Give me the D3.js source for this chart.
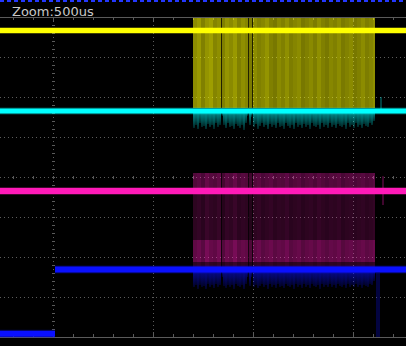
<!DOCTYPE html>
<html>
<head>
<meta charset="utf-8">
<script src="https://cdn.jsdelivr.net/npm/d3@7"></script>
<style>
  html, body { margin: 0; padding: 0; background: #000; overflow: hidden; }
</style>
</head>
<body>
<div id="scope"></div>
<script>
// timebase 500us/div, trigger at t = 0; vertical values in divisions
var title = 'Zoom:500us';
var channelLevels = [3.66, 1.65, -0.35, -2.31];   // CH1..CH4 resting level
var blueLowLevel = -3.92;                          // CH4 before step
var blueStepTime = 10;                             // us
var burstStart = 700, burstEnd = 1610;             // us
var burstGaps = [840, 975, 995];                   // us
var yellowTop = 3.98, yellowBottom = 1.72;
var magentaTop = 0.1, magentaBand = [-1.58, -2.13], magentaBottom = -2.28;

// 20us columns
var yellowBright = [0.55,0.6,0.5,0.58,0.62,0.52,0.56,0.5,0.58,0.54,0.6,0.5,0.56,0.52,0.48,0.55,0.5,0.53,0.58,0.5,0.47,0.54,0.5,0.56,0.49,0.52,0.55,0.47,0.5,0.54,0.49,0.56,0.5,0.47,0.53,0.5,0.55,0.48,0.51,0.54,0.47,0.5,0.55,0.49,0.52,0.56];
var magentaBright = [0.7,0.8,0.65,0.9,0.75,0.7,0.85,0.6,0.8,0.72,0.9,0.68,0.75,0.7,0.55,0.7,0.78,0.65,0.72,0.8,0.66,0.74,0.7,0.82,0.64,0.7,0.76,0.62,0.7,0.75,0.66,0.8,0.7,0.64,0.74,0.7,0.78,0.62,0.7,0.74,0.64,0.7,0.76,0.66,0.72,0.8];
// 10us columns, noise depth below trace (div)
var cyanNoise = [0.42,0.35,0.45,0.3,0.4,0.38,0.46,0.33,0.41,0.36,0.44,0.3,0.39,0.35,0.12,0.34,0.43,0.31,0.4,0.37,0.45,0.32,0.38,0.42,0.35,0.47,0.3,0.12,0.36,0.14,0.4,0.33,0.44,0.38,0.3,0.41,0.36,0.46,0.32,0.39,0.35,0.43,0.3,0.4,0.37,0.44,0.31,0.38,0.42,0.34,0.45,0.3,0.39,0.36,0.43,0.32,0.4,0.35,0.44,0.3,0.38,0.41,0.34,0.45,0.31,0.39,0.36,0.42,0.3,0.4,0.35,0.43,0.32,0.38,0.41,0.34,0.44,0.3,0.39,0.36,0.42,0.31,0.4,0.35,0.43,0.33,0.38,0.41,0.3,0.36,0.25];
var blueNoise = [0.45,0.4,0.48,0.38,0.44,0.42,0.5,0.36,0.45,0.4,0.47,0.37,0.43,0.4,0.2,0.41,0.46,0.38,0.44,0.4,0.48,0.37,0.42,0.45,0.39,0.5,0.36,0.2,0.41,0.2,0.44,0.38,0.47,0.42,0.36,0.45,0.4,0.49,0.37,0.43,0.4,0.46,0.36,0.44,0.41,0.47,0.37,0.42,0.45,0.39,0.48,0.36,0.43,0.4,0.46,0.37,0.44,0.4,0.47,0.36,0.42,0.45,0.39,0.48,0.37,0.43,0.4,0.45,0.36,0.44,0.4,0.46,0.37,0.42,0.45,0.39,0.47,0.36,0.43,0.4,0.45,0.37,0.44,0.4,0.46,0.38,0.42,0.45,0.36,0.4,0.3];
// stray spikes after burst: [channel, time, from, to]
var glitches = [[1, 1640, 1.65, 2.0], [2, 1650, 0.02, -0.7], [3, 1625, -2.4, -4.0]];

var colors = ['#ffff00', '#00ffff', '#ff1ab8', '#0a10ff'];

var W = 406, H = 346;
var x = d3.scaleLinear().domain([-265, 1765]).range([0, W]);
var y = d3.scaleLinear().domain([4, -4]).range([17, 337]);

var svg = d3.select('#scope').append('svg')
  .attr('width', W).attr('height', H)
  .style('display', 'block').style('background', '#000');

var defs = svg.append('defs');
[['fadeCyan', colors[1]], ['fadeBlue', colors[3]]].forEach(function(g) {
  var lg = defs.append('linearGradient').attr('id', g[0])
    .attr('x1', 0).attr('y1', 0).attr('x2', 0).attr('y2', 1);
  lg.append('stop').attr('offset', 0).attr('stop-color', g[1]).attr('stop-opacity', 0.6);
  lg.append('stop').attr('offset', 1).attr('stop-color', g[1]).attr('stop-opacity', 0.15);
});

// grid
var grid = svg.append('g').attr('shape-rendering', 'crispEdges');
grid.selectAll('.vg').data([0, 500, 1000, 1500]).enter().append('line')
  .attr('x1', d => Math.round(x(d)) + 0.5).attr('x2', d => Math.round(x(d)) + 0.5)
  .attr('y1', y(4)).attr('y2', y(-4))
  .attr('stroke', '#5c5c5c').attr('stroke-dasharray', '1,3');
grid.selectAll('.hg').data([3, 2, 1, 0, -1, -2, -3]).enter().append('line')
  .attr('y1', d => y(d) + 0.5).attr('y2', d => y(d) + 0.5)
  .attr('x1', 0).attr('x2', W)
  .attr('stroke', '#5c5c5c').attr('stroke-dasharray', '1,3');
// frame lines
[4, -4].forEach(function(v) {
  grid.append('line').attr('x1', 0).attr('x2', W)
    .attr('y1', y(v) + 0.5).attr('y2', y(v) + 0.5).attr('stroke', '#5a5a5a');
});
// minor ticks on time axes
var tticks = d3.range(-200, 1800, 100);
grid.selectAll('.tt').data(tticks).enter().append('line')
  .attr('x1', d => Math.round(x(d)) + 0.5).attr('x2', d => Math.round(x(d)) + 0.5)
  .attr('y1', y(4)).attr('y2', d => y(4) + (d % 500 === 0 ? 4 : 3))
  .attr('stroke', '#5a5a5a');
grid.selectAll('.tb').data(tticks).enter().append('line')
  .attr('x1', d => Math.round(x(d)) + 0.5).attr('x2', d => Math.round(x(d)) + 0.5)
  .attr('y1', y(-4)).attr('y2', d => y(-4) - (d % 500 === 0 ? 5 : 3))
  .attr('stroke', '#5a5a5a');
grid.selectAll('.tc').data(tticks).enter().append('line')
  .attr('x1', d => Math.round(x(d)) + 0.5).attr('x2', d => Math.round(x(d)) + 0.5)
  .attr('y1', y(0) - 1).attr('y2', y(0) + 2)
  .attr('stroke', '#5a5a5a');
grid.selectAll('.vc').data(d3.range(-3.8, 4, 0.2)).enter().append('line')
  .attr('x1', x(0) - 1).attr('x2', x(0) + 2)
  .attr('y1', d => Math.round(y(d)) + 0.5).attr('y2', d => Math.round(y(d)) + 0.5)
  .attr('stroke', '#5a5a5a');
// top window marker
svg.append('line').attr('x1', 0).attr('x2', W).attr('y1', 1).attr('y2', 1)
  .attr('stroke', '#2438ff').attr('stroke-width', 2).attr('stroke-dasharray', '4,3');

var cols20 = yellowBright.map((b, i) => burstStart + i * 20);
var cols10 = cyanNoise.map((b, i) => burstStart + i * 10);
function colW(t, step) { return x(Math.min(t + step, burstEnd)) - x(t); }

var burst = svg.append('g').attr('shape-rendering', 'crispEdges');
// CH1 burst
burst.selectAll('.yb').data(cols20).enter().append('rect')
  .attr('x', d => x(d)).attr('width', d => colW(d, 20))
  .attr('y', y(yellowTop)).attr('height', y(yellowBottom) - y(yellowTop))
  .attr('fill', colors[0]).attr('fill-opacity', (d, i) => yellowBright[i]);
// CH3 burst
burst.selectAll('.mb').data(cols20).enter().append('rect')
  .attr('x', d => x(d)).attr('width', d => colW(d, 20))
  .attr('y', y(magentaTop)).attr('height', y(magentaBottom) - y(magentaTop))
  .attr('fill', colors[2]).attr('fill-opacity', (d, i) => 0.25 * magentaBright[i]);
burst.selectAll('.mt').data(cols20).enter().append('rect')
  .attr('x', d => x(d)).attr('width', d => colW(d, 20))
  .attr('y', y(magentaTop)).attr('height', y(channelLevels[2]) - y(magentaTop))
  .attr('fill', colors[2]).attr('fill-opacity', (d, i) => 0.25 * magentaBright[i]);
burst.selectAll('.mband').data(cols20).enter().append('rect')
  .attr('x', d => x(d)).attr('width', d => colW(d, 20))
  .attr('y', y(magentaBand[0])).attr('height', y(magentaBand[1]) - y(magentaBand[0]))
  .attr('fill', colors[2]).attr('fill-opacity', (d, i) => 0.35 * magentaBright[i]);
// CH2 noise
burst.selectAll('.cn').data(cols10).enter().append('rect')
  .attr('x', d => x(d)).attr('width', d => colW(d, 10))
  .attr('y', y(channelLevels[1]))
  .attr('height', (d, i) => y(channelLevels[1] - cyanNoise[i]) - y(channelLevels[1]))
  .attr('fill', 'url(#fadeCyan)');
// CH4 noise
burst.selectAll('.bn').data(cols10).enter().append('rect')
  .attr('x', d => x(d)).attr('width', d => colW(d, 10))
  .attr('y', y(channelLevels[3]))
  .attr('height', (d, i) => y(channelLevels[3] - blueNoise[i]) - y(channelLevels[3]))
  .attr('fill', 'url(#fadeBlue)');
// dropouts
burst.selectAll('.gap').data(burstGaps).enter().append('rect')
  .attr('x', d => x(d)).attr('width', 1)
  .attr('y', y(yellowTop)).attr('height', y(magentaBottom - 0.5) - y(yellowTop))
  .attr('fill', '#000').attr('fill-opacity', 0.75);

// stray spikes
svg.selectAll('.gl').data(glitches).enter().append('line')
  .attr('x1', d => x(d[1])).attr('x2', d => x(d[1]))
  .attr('y1', d => y(d[2])).attr('y2', d => y(d[3]))
  .attr('stroke', d => colors[d[0]]).attr('stroke-width', d => d[0] === 3 ? 4 : 1)
  .attr('stroke-opacity', d => d[0] === 3 ? 0.25 : 0.5);

// traces
var line = d3.line().x(d => x(d[0])).y(d => y(d[1]));
var tr = svg.append('g');
var widths = [5, 5, 6, 6];
channelLevels.forEach(function(lv, i) {
  var segs = i === 3
    ? [[[-265, blueLowLevel], [blueStepTime, blueLowLevel]], [[blueStepTime, lv], [1765, lv]]]
    : [[[-265, lv], [1765, lv]]];
  segs.forEach(function(pts) {
    tr.append('path').datum(pts).attr('d', line).attr('fill', 'none')
      .attr('stroke', colors[i]).attr('stroke-opacity', 0.25).attr('stroke-width', widths[i] + 2);
    tr.append('path').datum(pts).attr('d', line).attr('fill', 'none')
      .attr('stroke', colors[i]).attr('stroke-width', widths[i]);
  });
});

svg.append('text').attr('x', 12).attr('y', 16)
  .attr('font-family', 'DejaVu Sans, sans-serif').attr('font-size', 13)
  .attr('fill', '#c8c8c8').text(title);
</script>
</body>
</html>
